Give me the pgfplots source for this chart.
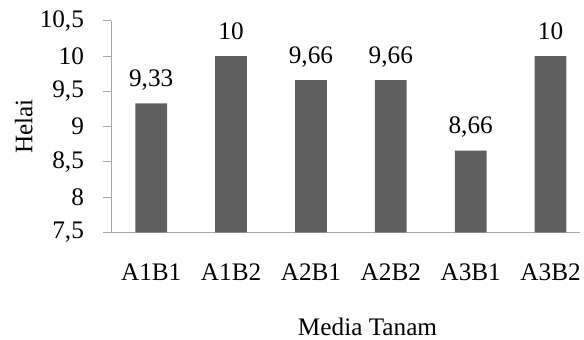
\documentclass[border=0pt]{standalone}
\usepackage{pgfplots}
\pgfplotsset{compat=1.18}
\usepackage{fontspec}
\setmainfont{Liberation Serif}
\definecolor{barc}{HTML}{5F5F5F}
\definecolor{axc}{HTML}{A6A6A6}
\begin{document}
\begin{tikzpicture}
\begin{axis}[
  scale only axis,
  width=472bp, height=213bp,
  xmin=-0.5, xmax=5.37,
  ymin=7.5, ymax=10.5,
  ytick={7.5,8,8.5,9,9.5,10,10.5},
  xtick=data,
  xticklabels={A1B1,A1B2,A2B1,A2B2,A3B1,A3B2},
  axis x line*=bottom, axis y line*=left,
  axis line style={axc, line width=1pt},
  y axis line style={-}, x axis line style={-},
  major tick style={axc, line width=1pt},
  xtick style={draw=none},
  tick align=outside,
  major tick length=8bp,
  /pgf/number format/assume math mode=true,
  /pgf/number format/use comma,
  /pgf/number format/fixed,
  yticklabel style={font=\fontsize{25.5}{28}\selectfont, anchor=east, xshift=-16bp},
  xticklabel style={font=\fontsize{25.5}{28}\selectfont, anchor=base, yshift=-40bp},
  ylabel={Helai}, xlabel={Media Tanam},
  ylabel style={font=\fontsize{25.5}{28}\selectfont, at={([xshift=-88bp]rel axis cs:0,0.5)}, anchor=center},
  xlabel style={font=\fontsize{25.5}{28}\selectfont, at={([xshift=22bp,yshift=-104bp]rel axis cs:0.5,0)}, anchor=base},
  clip=false,
  ybar, bar width=32bp,
  nodes near coords,
  nodes near coords style={font=\fontsize{25.5}{28}\selectfont, black, anchor=base, yshift=17bp, /pgf/number format/.cd, use comma, precision=2},
]
\addplot[fill=barc, draw=none] coordinates {(0,9.33) (1,10) (2,9.66) (3,9.66) (4,8.66) (5,10)};
\path (rel axis cs:0,0) ++(-112bp,-108bp) rectangle ++(584bp,342bp);
\end{axis}
\end{tikzpicture}
\end{document}
